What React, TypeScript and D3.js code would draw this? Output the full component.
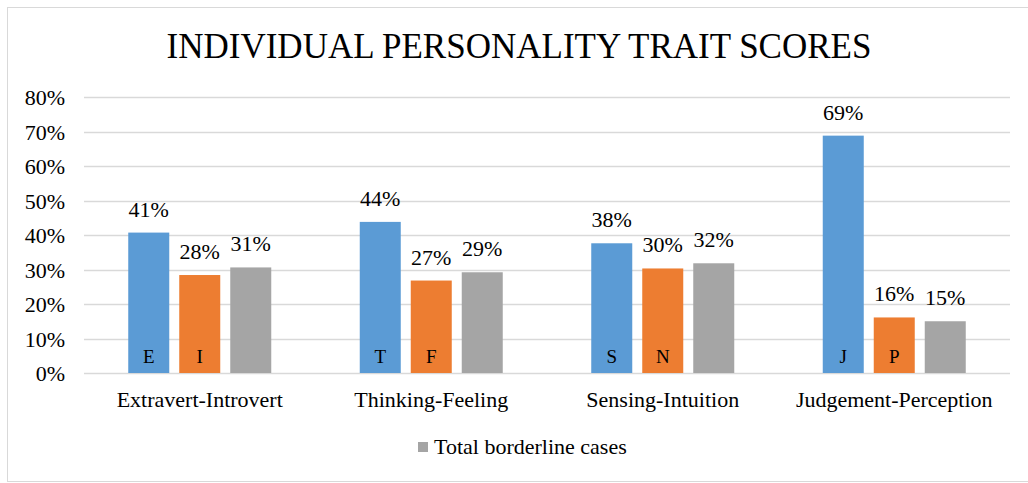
import { useEffect, useRef } from 'react';
import * as d3 from 'd3';

const categories = ['Extravert-Introvert', 'Thinking-Feeling', 'Sensing-Intuition', 'Judgement-Perception'];
const seriesNames = ['First preference', 'Second preference', 'Total borderline cases'];
const firstValues = [0.407, 0.438, 0.376, 0.688];
const secondValues = [0.284, 0.268, 0.303, 0.161];
const borderlineValues = [0.306, 0.292, 0.318, 0.15];
const firstLetters = ['E', 'T', 'S', 'J'];
const secondLetters = ['I', 'F', 'N', 'P'];
const yTicks = [0, 0.1, 0.2, 0.3, 0.4, 0.5, 0.6, 0.7, 0.8];
const colors = ['#5B9BD5', '#ED7D31', '#A5A5A5'];

const W = 1028;
const H = 483;
const FONT = '"Liberation Serif", "Times New Roman", serif';

const App = () => {
  const svgRef = useRef<SVGSVGElement>(null);

  useEffect(() => {
    const svg = d3.select(svgRef.current);
    svg.selectAll('*').remove();

    const left = 84, right = 1010, top = 97, bottom = 373;
    const groupW = 143;

    const x = d3.scaleBand<string>().domain(categories).range([left, right]).padding(0);
    const inner = d3.scaleBand<string>().domain(seriesNames).range([0, groupW]).paddingInner(0.196);
    const y = d3.scaleLinear().domain([0, 0.8]).range([bottom, top]);

    // chart border
    svg.append('rect')
      .attr('x', 7.5).attr('y', 7.5)
      .attr('width', 1040).attr('height', 474)
      .attr('fill', 'white').attr('stroke', '#D9D9D9').attr('stroke-width', 1);

    svg.append('text')
      .attr('x', 519).attr('y', 58)
      .attr('text-anchor', 'middle')
      .style('font-family', FONT).style('font-size', '35px')
      .attr('fill', '#000')
      .text('INDIVIDUAL PERSONALITY TRAIT SCORES');

    // gridlines
    svg.append('g').selectAll('line').data(yTicks).join('line')
      .attr('x1', left).attr('x2', right)
      .attr('y1', d => Math.round(y(d)) + 0.5).attr('y2', d => Math.round(y(d)) + 0.5)
      .attr('stroke', '#D9D9D9').attr('stroke-width', 1.5);

    svg.append('g').selectAll('text').data(yTicks).join('text')
      .attr('x', 65).attr('y', d => y(d) + 8)
      .attr('text-anchor', 'end')
      .style('font-family', FONT).style('font-size', '22px')
      .text(d => d3.format('.0%')(d));

    const series = [firstValues, secondValues, borderlineValues];
    const letters = [firstLetters, secondLetters, null];

    series.forEach((vals, si) => {
      const g = svg.append('g');
      const bx = (i: number) => (x(categories[i]) as number) + (x.bandwidth() - groupW) / 2 + (inner(seriesNames[si]) as number);
      g.selectAll('rect').data(vals).join('rect')
        .attr('x', (d, i) => bx(i))
        .attr('y', d => y(d))
        .attr('width', inner.bandwidth())
        .attr('height', d => bottom - y(d))
        .attr('fill', colors[si]);

      g.selectAll('text.val').data(vals).join('text')
        .attr('class', 'val')
        .attr('x', (d, i) => bx(i) + inner.bandwidth() / 2)
        .attr('y', d => y(d) - 16)
        .attr('text-anchor', 'middle')
        .style('font-family', FONT).style('font-size', '22px')
        .text(d => d3.format('.0%')(d));

      const ls = letters[si];
      if (ls) {
        g.selectAll('text.letter').data(ls).join('text')
          .attr('class', 'letter')
          .attr('x', (d, i) => bx(i) + inner.bandwidth() / 2)
          .attr('y', 363)
          .attr('text-anchor', 'middle')
          .style('font-family', FONT).style('font-size', '19px')
          .text(d => d);
      }
    });

    svg.append('g').selectAll('text').data(categories).join('text')
      .attr('x', d => (x(d) as number) + x.bandwidth() / 2)
      .attr('y', 407)
      .attr('text-anchor', 'middle')
      .style('font-family', FONT).style('font-size', '22px')
      .text(d => d);

    // legend: only the borderline series
    svg.append('rect')
      .attr('x', 418).attr('y', 442).attr('width', 10).attr('height', 10)
      .attr('fill', colors[2]);
    svg.append('text')
      .attr('x', 434).attr('y', 454)
      .style('font-family', FONT).style('font-size', '22px')
      .text(seriesNames[2]);
  }, []);

  return (
    <svg ref={svgRef} width={W} height={H}
      style={{ position: 'absolute', left: 0, top: 0, background: 'white' }} />
  );
};

export default App;
